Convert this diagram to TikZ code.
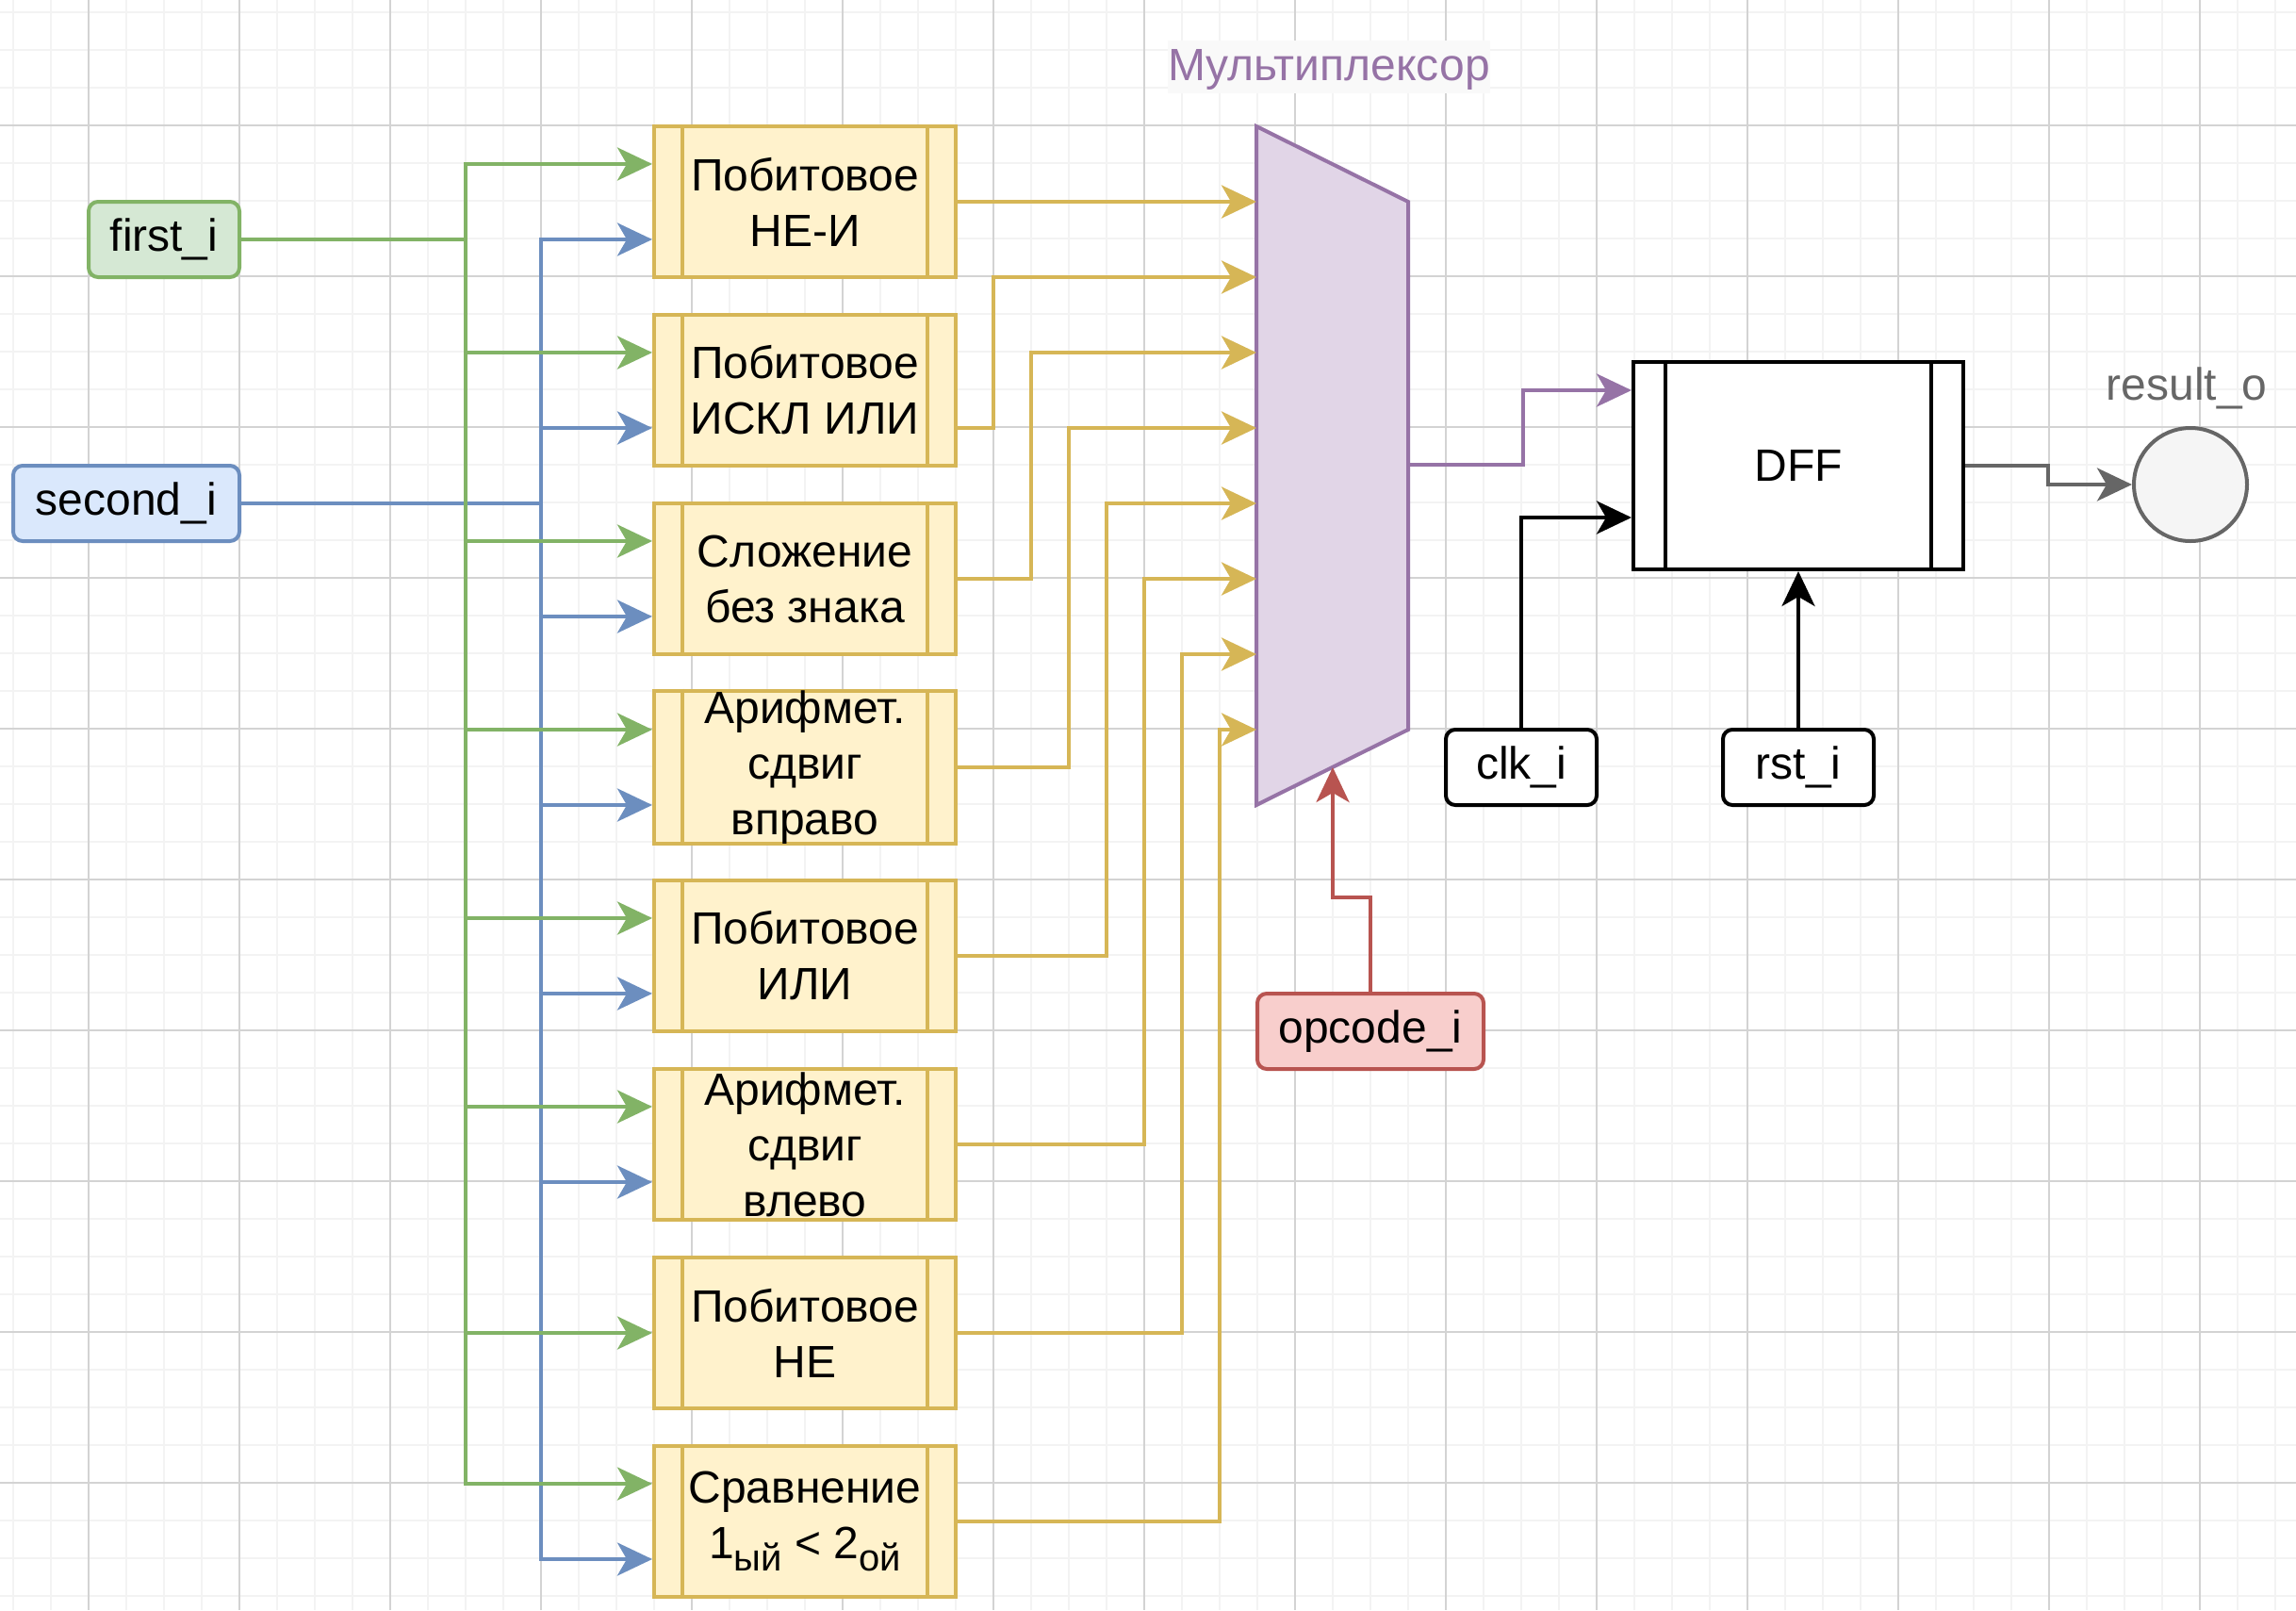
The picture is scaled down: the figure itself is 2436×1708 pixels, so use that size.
\documentclass[tikz,border=0pt]{standalone}
\usepackage{fontspec}
\setmainfont{Liberation Sans}
\usetikzlibrary{arrows.meta}
\definecolor{grnS}{HTML}{82B366}
\definecolor{grnF}{HTML}{D5E8D4}
\definecolor{bluS}{HTML}{6C8EBF}
\definecolor{bluF}{HTML}{DAE8FC}
\definecolor{yelS}{HTML}{D6B656}
\definecolor{yelF}{HTML}{FFF2CC}
\definecolor{purS}{HTML}{9673A6}
\definecolor{purF}{HTML}{E1D5E7}
\definecolor{redS}{HTML}{B85450}
\definecolor{redF}{HTML}{F8CECC}
\definecolor{gryS}{HTML}{666666}
\definecolor{gryF}{HTML}{F5F5F5}
\definecolor{gridMinor}{HTML}{F3F3F3}
\definecolor{gridMajor}{HTML}{D3D3D3}
\definecolor{labBg}{HTML}{F9F9F9}
\newcommand\dfont{\fontsize{48}{59}\selectfont}
\newcommand\subtx[1]{\raisebox{-13pt}{\fontsize{40}{48}\selectfont #1}}
\tikzset{
  conn/.style={line width=4pt, -{Stealth[length=37pt,width=35pt,inset=10pt]}},
  gate/.style={draw=yelS, fill=yelF, line width=4pt, minimum width=320pt,
    minimum height=160pt, inner sep=0pt, align=center, font=\dfont},
  port/.style={rounded corners=10pt, line width=4pt, minimum height=80pt,
    inner sep=0pt, font=\dfont},
  minorgrid/.style={draw=gridMinor, line width=2.5pt},
  majorgrid/.style={draw=gridMajor, line width=2pt},
}
\begin{document}
\begin{tikzpicture}[x=1pt,y=-1pt]
\useasboundingbox (0,0) rectangle (2436,1708);
\fill[white] (0,0) rectangle (2436,1708);
% grid
\foreach \i in {0,...,60} \draw[minorgrid] ({14+40*\i},0) -- ({14+40*\i},1708);
\foreach \j in {0,...,42} \draw[minorgrid] (0,{13+40*\j}) -- (2436,{13+40*\j});
\foreach \i in {0,...,14} \draw[majorgrid] ({94+160*\i},0) -- ({94+160*\i},1708);
\foreach \j in {0,...,9} \draw[majorgrid] (0,{133+160*\j}) -- (2436,{133+160*\j});

% inputs
\node[port, draw=grnS, fill=grnF, minimum width=160pt] (first) at (174,254) {first\_i};
\node[port, draw=bluS, fill=bluF, minimum width=240pt] (second) at (134,534) {second\_i};

% gates
\node[gate] (g1) at (854,214) {Побитовое\\НЕ-И};
\node[gate] (g2) at (854,414) {Побитовое\\ИСКЛ ИЛИ};
\node[gate] (g3) at (854,614) {Сложение\\без знака};
\node[gate] (g4) at (854,814) {Арифмет.\\сдвиг\\вправо};
\node[gate] (g5) at (854,1014) {Побитовое\\ИЛИ};
\node[gate] (g6) at (854,1214) {Арифмет.\\сдвиг\\влево};
\node[gate] (g7) at (854,1414) {Побитовое\\НЕ};
\node[gate] (g8) at (854,1614) {Сравнение\\1\subtx{ый} < 2\subtx{ой}};
\foreach \k in {1,...,8} {
  \draw[yelS, line width=4pt] ([xshift=32pt]g\k.north west) -- ([xshift=32pt]g\k.south west);
  \draw[yelS, line width=4pt] ([xshift=-32pt]g\k.north east) -- ([xshift=-32pt]g\k.south east);
}

% input connectors
\foreach \k/\y in {1/254, 2/454, 3/654, 4/854, 5/1054, 6/1254, 8/1654}
  \draw[conn, bluS] (second.east) -- (574,534) |- (g\k.west |- 0,\y);
\foreach \k/\y in {1/174, 2/374, 3/574, 4/774, 5/974, 6/1174, 7/1414, 8/1574}
  \draw[conn, grnS] (first.east) -- (494,254) |- (g\k.west |- 0,\y);

% multiplexer
\draw[line width=4pt, draw=purS, fill=purF] (1333,134) -- (1494,214) -- (1494,774) -- (1333,854) -- cycle;
\foreach \k in {1,...,8} \coordinate (in\k) at (1333,{134+80*\k});
\coordinate (muxout) at (1494,493);
\coordinate (muxsel) at (1414,814);
\node[fill=labBg, text=purS, font=\dfont, inner xsep=0pt, inner ysep=2.5pt,
  text height=40pt, text depth=11pt, minimum width=340pt] (mlab) at (1410,70.5) {Мультиплексор};

% gate outputs to multiplexer
\draw[conn, yelS] (g1.east) -- (in1);
\draw[conn, yelS] (g2.east |- 0,454) -- (1054,454) |- (in2);
\draw[conn, yelS] (g3.east) -- (1094,614) |- (in3);
\draw[conn, yelS] (g4.east) -- (1134,814) |- (in4);
\draw[conn, yelS] (g5.east) -- (1174,1014) |- (in5);
\draw[conn, yelS] (g6.east) -- (1214,1214) |- (in6);
\draw[conn, yelS] (g7.east) -- (1254,1414) |- (in7);
\draw[conn, yelS] (g8.east) -- (1294,1614) |- (in8);

% opcode
\node[port, draw=redS, fill=redF, minimum width=240pt] (op) at (1454,1094) {opcode\_i};
\draw[conn, redS] (op.north) -- (1454,952) -- (1414,952) -- (muxsel);

% DFF
\node[draw=black, fill=white, line width=4pt, minimum width=350pt, minimum height=220pt,
  inner sep=0pt, font=\dfont] (dff) at (1908,494) {DFF};
\draw[line width=4pt] ([xshift=36pt]dff.north west) -- ([xshift=36pt]dff.south west);
\draw[line width=4pt] ([xshift=-36pt]dff.north east) -- ([xshift=-36pt]dff.south east);
\draw[conn, purS] (muxout) -- (1616,493) -- (1616,414) -- (dff.west |- 0,414);

\node[port, draw=black, fill=white, minimum width=160pt] (clk) at (1614,814) {clk\_i};
\node[port, draw=black, fill=white, minimum width=160pt] (rst) at (1908,814) {rst\_i};
\draw[conn, black] (clk.north) |- (dff.west |- 0,549);
\draw[conn, black] (rst.north) -- (dff.south);

% output
\node[circle, draw=gryS, fill=gryF, line width=4pt, minimum size=120pt, inner sep=0pt] (res) at (2324,514) {};
\node[text=gryS, font=\dfont] (rlab) at (2320,412) {result\_o};
\draw[conn, gryS] (dff.east) -- (2173,494) |- (res.west);
\end{tikzpicture}
\end{document}
